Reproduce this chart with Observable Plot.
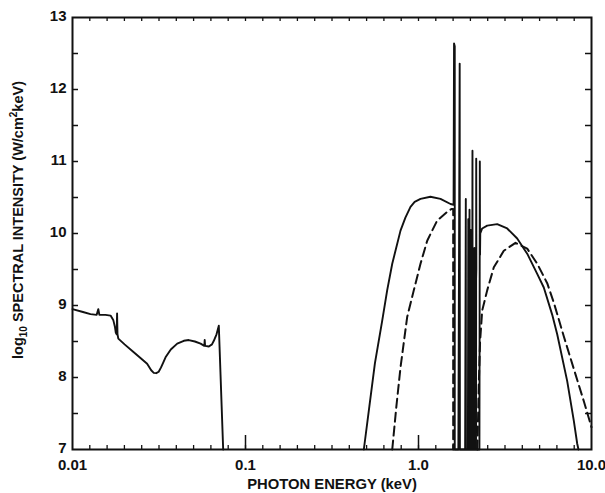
<!DOCTYPE html>
<html><head><meta charset="utf-8">
<script src="https://cdn.jsdelivr.net/npm/d3@7"></script>
<script src="https://cdn.jsdelivr.net/npm/@observablehq/plot@0.6"></script>
<style>body{margin:0;background:#fff} svg{display:block}</style>
</head><body><div id="chart"></div>
<script>
// Low-energy solid spectrum (keV, log10 intensity)
const lowEnergy    = [0.01, 0.0115, 0.0127, 0.0138, 0.0141, 0.0143, 0.0155, 0.0166, 0.0172, 0.0176, 0.0178, 0.0180, 0.0181, 0.0182, 0.0184, 0.0200, 0.0226, 0.0250, 0.0270, 0.0285, 0.0295, 0.0305, 0.0315, 0.0325, 0.0335, 0.0345, 0.0370, 0.0403, 0.0440, 0.0470, 0.0510, 0.0550, 0.0578, 0.0581, 0.0584, 0.0614, 0.0640, 0.0656, 0.0680, 0.0701, 0.0743];
const lowIntensity = [8.95, 8.91, 8.88, 8.87, 8.95, 8.87, 8.87, 8.86, 8.80, 8.70, 8.62, 8.60, 8.89, 8.60, 8.54, 8.46, 8.35, 8.26, 8.19, 8.10, 8.065, 8.06, 8.08, 8.14, 8.21, 8.28, 8.39, 8.47, 8.51, 8.52, 8.50, 8.47, 8.44, 8.52, 8.44, 8.43, 8.46, 8.51, 8.60, 8.72, 7.0];

// High-energy solid spectrum with emission lines
const hiEnergy    = [0.483, 0.52, 0.56, 0.617, 0.659, 0.705, 0.787, 0.84, 0.899, 0.95, 1.027, 1.172, 1.34, 1.531, 1.595, 1.605, 1.62, 1.62, 1.70, 1.73, 1.735, 1.86, 1.877, 1.88, 1.93, 1.94, 1.945, 1.96, 1.972, 1.975, 2.0, 2.005, 2.01, 2.04, 2.051, 2.055, 2.10, 2.105, 2.11, 2.15, 2.156, 2.16, 2.13, 2.12, 2.12, 2.25, 2.262, 2.268, 2.275, 2.334, 2.495, 2.85, 3.256, 3.72, 4.25, 4.855, 5.30, 5.93, 6.335, 7.237, 7.90, 8.27, 8.41];
const hiIntensity = [7.0, 7.6, 8.2, 8.79, 9.21, 9.58, 10.04, 10.22, 10.37, 10.44, 10.48, 10.51, 10.48, 10.41, 10.40, 12.64, 12.60, 7.0, 7.0, 12.36, 7.0, 7.0, 10.48, 7.0, 7.0, 10.20, 7.0, 7.0, 10.33, 7.0, 7.0, 10.05, 7.0, 7.0, 11.15, 7.0, 7.0, 9.80, 7.0, 7.0, 11.04, 9.50, 8.90, 8.20, 7.0, 7.0, 11.0, 9.70, 10.0, 10.07, 10.11, 10.13, 10.07, 9.93, 9.72, 9.44, 9.25, 8.87, 8.60, 7.95, 7.40, 7.08, 7.0];

// Dashed spectrum, first hump (ends with drop to the axis)
const dashEnergy1    = [0.705, 0.745, 0.787, 0.86, 0.939, 1.027, 1.123, 1.282, 1.465, 1.55, 1.587, 1.587];
const dashIntensity1 = [7.0, 7.6, 8.14, 8.84, 9.21, 9.58, 9.90, 10.18, 10.30, 10.34, 10.34, 7.0];
// Dashed spectrum, second hump
const dashEnergy2    = [2.19, 2.23, 2.27, 2.334, 2.495, 2.725, 3.112, 3.637, 4.25, 4.855, 5.546, 6.055, 6.92, 7.90, 9.03, 10.0];
const dashIntensity2 = [7.0, 7.9, 8.5, 8.93, 9.21, 9.53, 9.76, 9.87, 9.79, 9.58, 9.31, 9.04, 8.57, 8.12, 7.67, 7.31];

// Axis tick labels
const xTickValues = [0.01, 0.1, 1, 10];
const xTickLabels = ["0.01", "0.1", "1.0", "10.0"];
const yTickValues = [7, 8, 9, 10, 11, 12, 13];
const yTickLabels = ["7", "8", "9", "10", "11", "12", "13"];
const yHalfTicks  = [7.5, 8, 8.5, 9, 9.5, 10, 10.5, 11, 11.5, 12, 12.5];
const xMajorInner = [0.1, 1];
const xTitle = "PHOTON ENERGY (keV)";

const W = 605, H = 493, mL = 72, mR = 14, mT = 17, mB = 44;
const plotW = W - mL - mR, plotH = H - mT - mB;
const xMinor = d3.range(1, 30).map(k => 0.01 * Math.pow(10, k / 10));

const toRows = (es, is, seg) => es.map((e, i) => ({e, v: is[i], seg}));
const solid = [...toRows(lowEnergy, lowIntensity, "low"), ...toRows(hiEnergy, hiIntensity, "high")];
const dashed = [...toRows(dashEnergy1, dashIntensity1, "d1"), ...toRows(dashEnergy2, dashIntensity2, "d2")];

const font = "'Liberation Sans', Arial, Helvetica, sans-serif";

const chart = Plot.plot({
  width: W, height: H,
  marginLeft: mL, marginRight: mR, marginTop: mT, marginBottom: mB,
  style: {fontFamily: font, background: "#fff", color: "#111"},
  x: {type: "log", domain: [0.01, 10]},
  y: {domain: [7, 13]},
  marks: [
    Plot.ruleX(xMinor, {x: d => d, insetTop: plotH - 4, stroke: "#111", strokeWidth: 1.3}),
    Plot.ruleX(xMinor, {x: d => d, insetBottom: plotH - 4, stroke: "#111", strokeWidth: 1.3}),
    Plot.ruleX(xMajorInner, {x: d => d, insetTop: plotH - 14, stroke: "#111", strokeWidth: 1.5}),
    Plot.ruleY(yHalfTicks, {y: d => d, insetRight: plotW - 6, stroke: "#111", strokeWidth: 1.5}),
    Plot.ruleY(yHalfTicks, {y: d => d, insetLeft: plotW - 6, stroke: "#111", strokeWidth: 1.5}),
    Plot.line(solid, {x: "e", y: "v", z: "seg", stroke: "#111", strokeWidth: 1.9}),
    Plot.line(dashed, {x: "e", y: "v", z: "seg", stroke: "#111", strokeWidth: 2, strokeDasharray: "9,5"}),
    Plot.frame({stroke: "#111", strokeWidth: 2}),
    Plot.axisX(xTickValues, {tickSize: 0, tickPadding: 10, fontSize: 15, fontWeight: "bold",
      tickFormat: d => xTickLabels[xTickValues.indexOf(d)], label: null}),
    Plot.axisY(yTickValues, {tickSize: 0, tickPadding: 6, dy: -1.5, fontSize: 15, fontWeight: "bold",
      tickFormat: d => yTickLabels[yTickValues.indexOf(d)], label: null}),
    Plot.text([xTitle], {text: d => d, frameAnchor: "bottom", dy: 39, fontSize: 14.8, fontWeight: "bold", fill: "#111"})
  ]
});

const svg = d3.select(chart);
const t = svg.append("text")
  .attr("transform", `translate(23, 220) rotate(-90)`)
  .attr("text-anchor", "middle")
  .attr("font-family", font)
  .attr("font-size", 14.5)
  .attr("font-weight", "bold")
  .attr("fill", "#111");
t.append("tspan").text("log");
t.append("tspan").attr("font-size", 10).attr("dy", 4).text("10");
t.append("tspan").attr("dy", -4).text(" SPECTRAL INTENSITY (W/cm");
t.append("tspan").attr("font-size", 10).attr("dy", -6).text("2");
t.append("tspan").attr("dy", 6).text("keV)");

document.getElementById("chart").appendChild(chart);
</script>
</body></html>
